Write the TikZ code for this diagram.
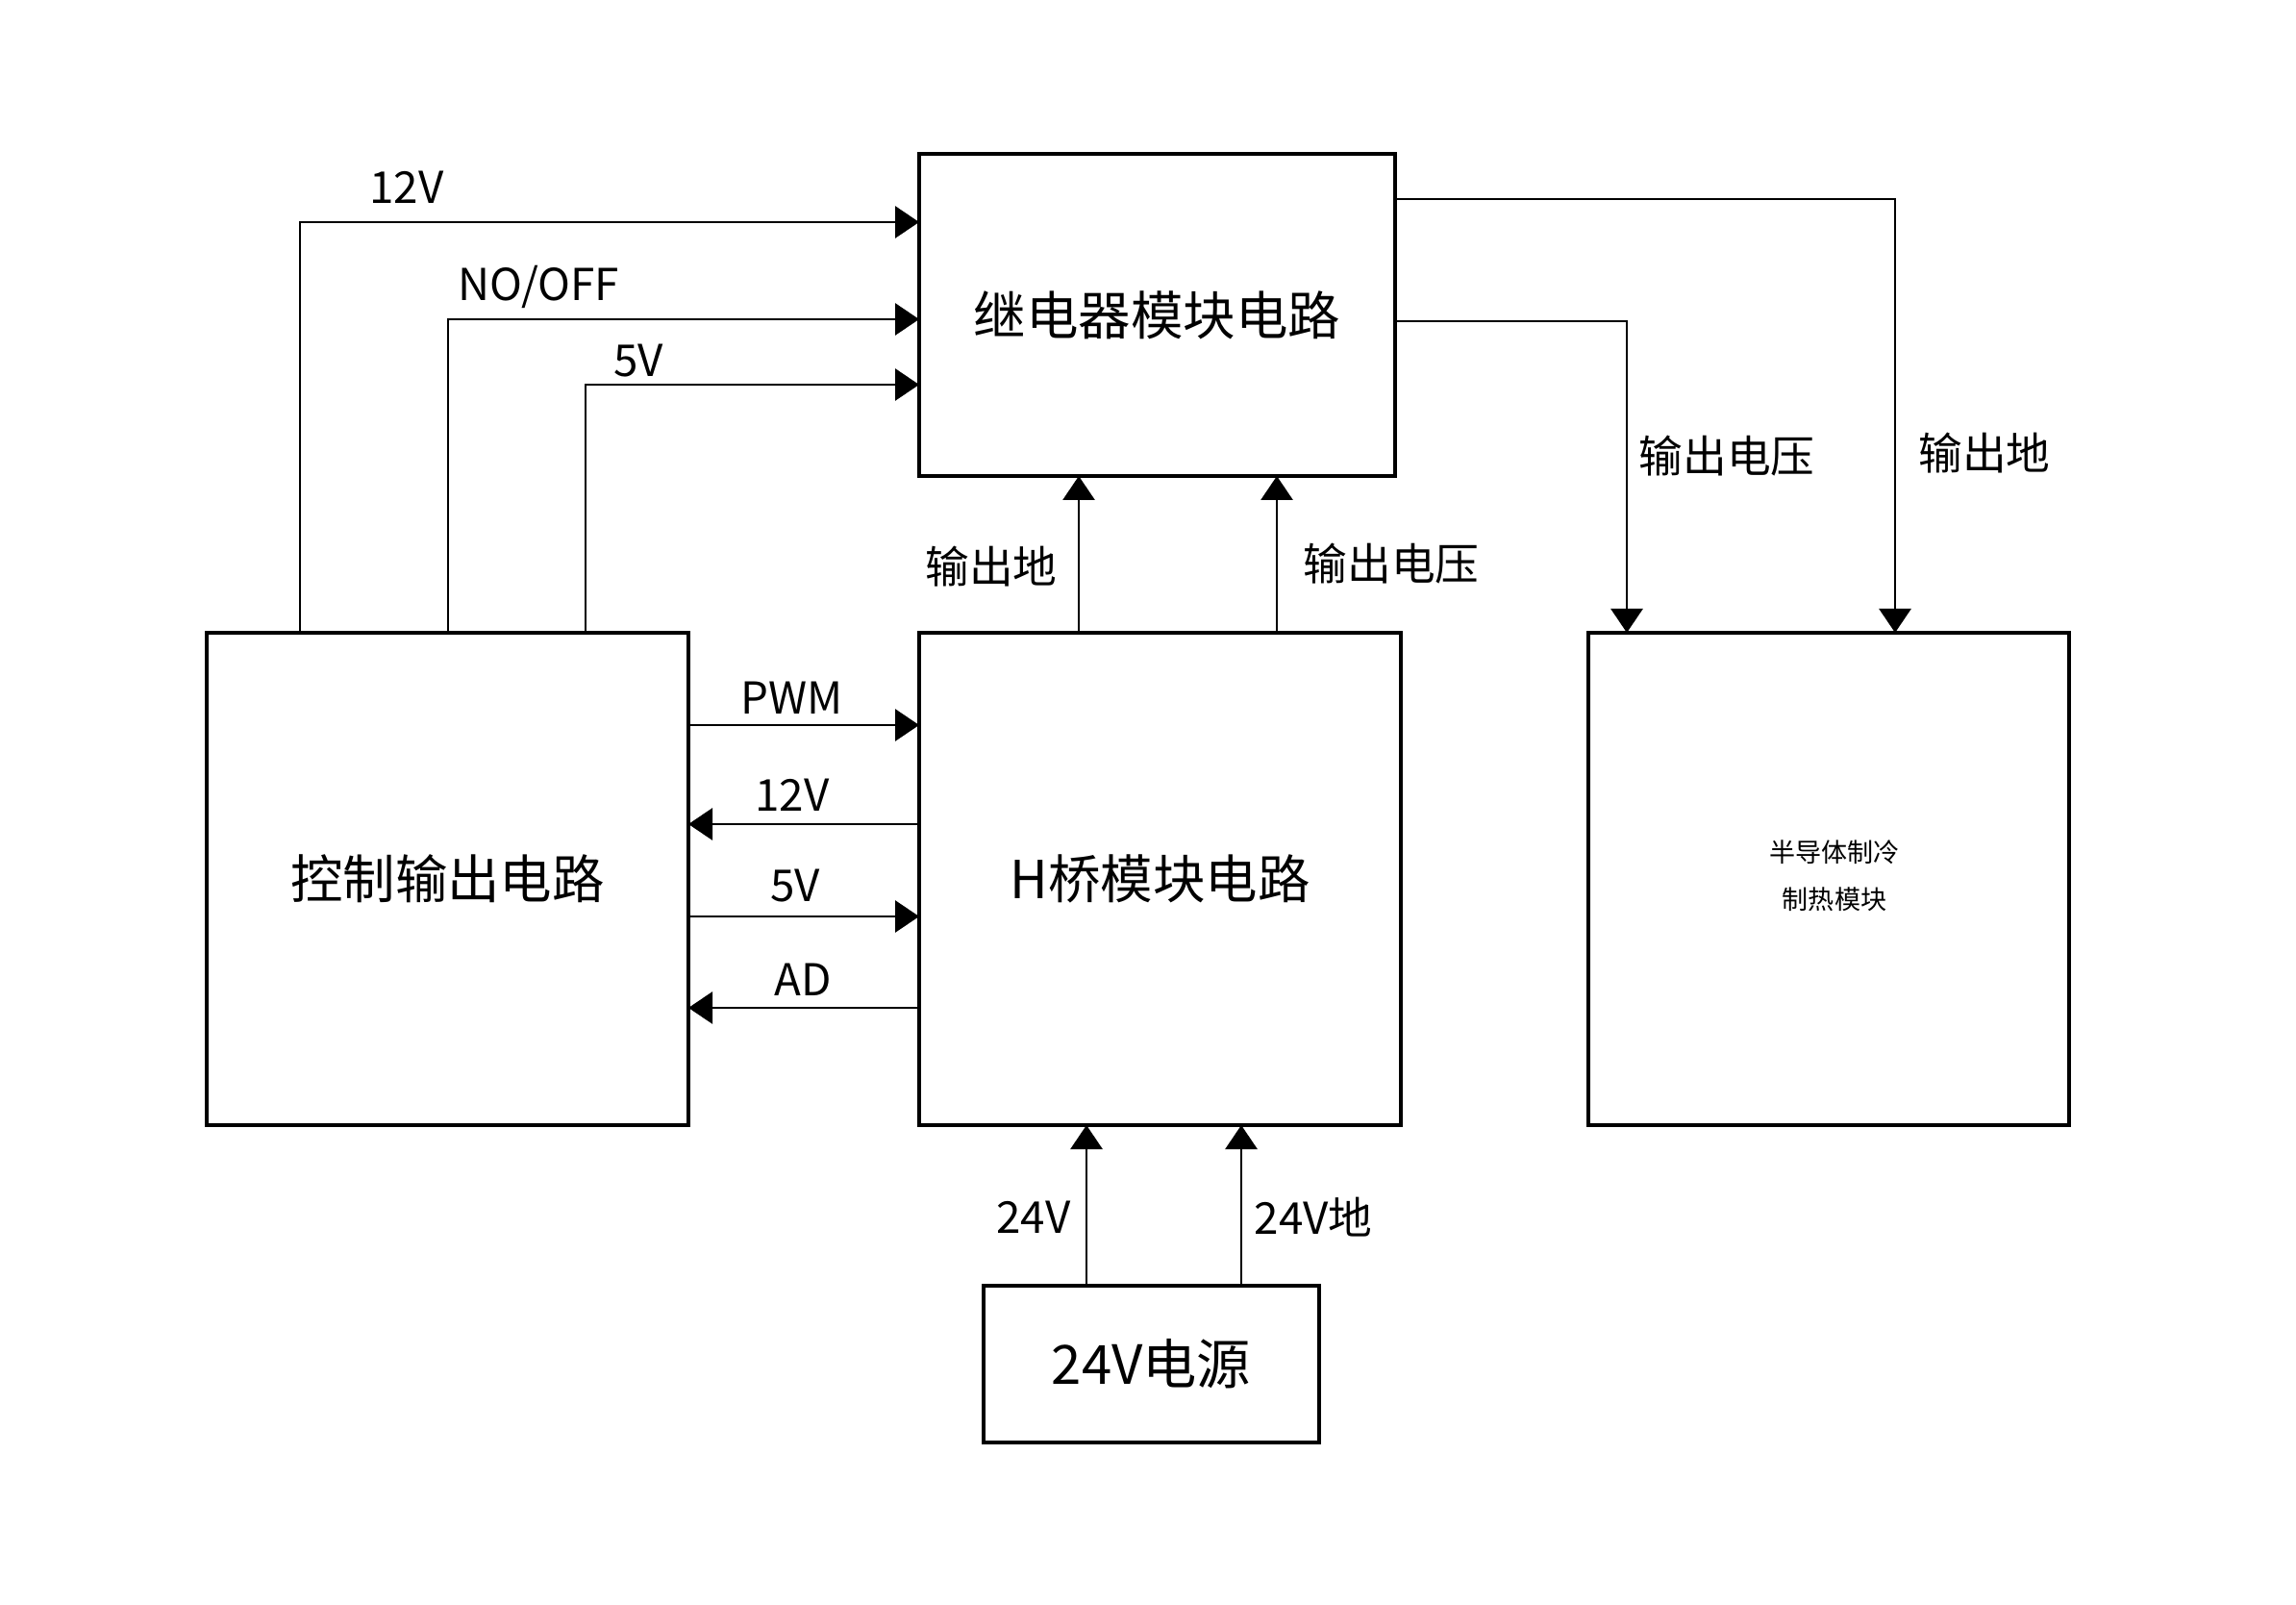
\documentclass[tikz,border=0pt]{standalone}
\usepackage{fontspec}
\setmainfont{Noto Sans CJK SC}
\usetikzlibrary{arrows.meta}

\tikzset{
  block/.style={draw, line width=1pt, inner sep=0pt},
  wire/.style={line width=0.8pt, -{Triangle[length=0.25cm, width=0.33cm]}},
  lbl/.style={font=\fontsize{13}{15}\selectfont, inner sep=1pt},
}

\begin{document}
\begin{tikzpicture}
            \useasboundingbox (0,0) rectangle (23.88,16.68);

            % Blocks
            \node[block, minimum width=4.95cm, minimum height=3.35cm, font=\fontsize{15.5}{18}\selectfont] (relay) at (12.035,13.405) {继电器模块电路};
            \node[block, minimum width=5.01cm, minimum height=5.12cm, font=\fontsize{15.5}{18}\selectfont] (ctrl) at (4.655,7.54) {控制输出电路};
            \node[block, minimum width=5.01cm, minimum height=5.12cm, font=\fontsize{15.5}{18}\selectfont] (hb) at (12.065,7.54) {H桥模块电路};
            \node[block, minimum width=5.0cm, minimum height=5.12cm, font=\fontsize{7.7}{14}\selectfont] (semi) at (19.02,7.54) {};
            \node[align=center, font=\fontsize{7.7}{14}\selectfont] (semitxt) at (19.08,7.57) {半导体制冷\\制热模块};
            \node[block, minimum width=3.49cm, minimum height=1.63cm, font=\fontsize{16}{19}\selectfont] (psu) at (11.975,2.495) {24V电源};

            % Wire ends
            \coordinate (c12) at (3.12,10.10);
            \coordinate (cno) at (4.66,10.10);
            \coordinate (c5) at (6.09,10.10);
            \coordinate (r12) at (9.56,14.37);
            \coordinate (rno) at (9.56,13.36);
            \coordinate (r5) at (9.56,12.68);
            \coordinate (rgnd) at (11.22,11.73);
            \coordinate (rvol) at (13.28,11.73);
            \coordinate (hgnd) at (11.22,10.10);
            \coordinate (hvol) at (13.28,10.10);
            \coordinate (rout1) at (14.51,13.34);
            \coordinate (rout2) at (14.51,14.61);
            \coordinate (svol) at (16.92,10.10);
            \coordinate (sgnd) at (19.71,10.10);
            \coordinate (cpwm) at (7.16,9.14);
            \coordinate (hpwm) at (9.56,9.14);
            \coordinate (c12b) at (7.16,8.11);
            \coordinate (h12b) at (9.56,8.11);
            \coordinate (c5b) at (7.16,7.15);
            \coordinate (h5b) at (9.56,7.15);
            \coordinate (cad) at (7.16,6.20);
            \coordinate (had) at (9.56,6.20);
            \coordinate (p24) at (11.30,3.31);
            \coordinate (pgnd) at (12.91,3.31);
            \coordinate (h24) at (11.30,4.98);
            \coordinate (hg24) at (12.91,4.98);

            % Edges
            \draw[wire] (c12) |- (r12);
            \draw[wire] (cno) |- (rno);
            \draw[wire] (c5) |- (r5);
            \draw[wire] (hgnd) -- (rgnd);
            \draw[wire] (hvol) -- (rvol);
            \draw[wire] (rout1) -| (svol);
            \draw[wire] (rout2) -| (sgnd);
            \draw[wire] (cpwm) -- (hpwm);
            \draw[wire] (h12b) -- (c12b);
            \draw[wire] (c5b) -- (h5b);
            \draw[wire] (had) -- (cad);
            \draw[wire] (p24) -- (h24);
            \draw[wire] (pgnd) -- (hg24);

            % Labels
            \node[lbl] (l12) at (4.23,14.73) {12V};
            \node[lbl] (lno) at (5.60,13.70) {NO/OFF};
            \node[lbl] (l5) at (6.64,12.93) {5V};
            \node[lbl] (lrgnd) at (10.31,10.79) {输出地};
            \node[lbl] (lrvol) at (14.47,10.82) {输出电压};
            \node[lbl] (lsvol) at (17.96,11.94) {输出电压};
            \node[lbl] (lsgnd) at (20.64,11.97) {输出地};
            \node[lbl] (lpwm) at (8.24,9.42) {PWM};
            \node[lbl] (l12b) at (8.24,8.41) {12V};
            \node[lbl] (l5b) at (8.27,7.47) {5V};
            \node[lbl] (lad) at (8.35,6.49) {AD};
            \node[lbl] (l24) at (10.75,4.02) {24V};
            \node[lbl] (lg24) at (13.66,4.02) {24V地};
        \end{tikzpicture}
\end{document}
